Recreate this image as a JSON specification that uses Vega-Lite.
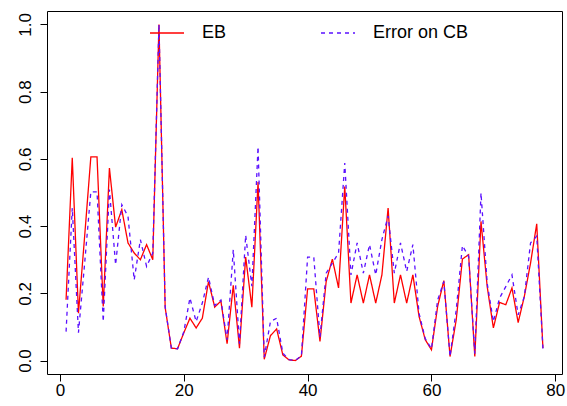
{
  "$schema": "https://vega.github.io/schema/vega-lite/v6.json",
  "width": 515,
  "height": 363,
  "autosize": {"type": "none"},
  "padding": {"left": 47, "top": 11, "right": 5, "bottom": 32},
  "background": "white",
  "config": {
    "view": {"stroke": "black", "strokeWidth": 1},
    "font": "Liberation Sans",
    "axis": {
      "domain": false,
      "grid": false,
      "ticks": true,
      "tickColor": "black",
      "tickSize": 7,
      "labelFont": "Liberation Sans",
      "labelFontSize": 17,
      "labelColor": "black",
      "title": null
    }
  },
  "data": {
    "values": [
      {"i": 1, "EB": 0.181, "Error on CB": 0.086},
      {"i": 2, "EB": 0.603, "Error on CB": 0.454},
      {"i": 3, "EB": 0.141, "Error on CB": 0.083},
      {"i": 4, "EB": 0.37, "Error on CB": 0.29},
      {"i": 5, "EB": 0.606, "Error on CB": 0.502},
      {"i": 6, "EB": 0.606, "Error on CB": 0.502},
      {"i": 7, "EB": 0.161, "Error on CB": 0.116},
      {"i": 8, "EB": 0.573, "Error on CB": 0.509},
      {"i": 9, "EB": 0.397, "Error on CB": 0.285},
      {"i": 10, "EB": 0.449, "Error on CB": 0.464},
      {"i": 11, "EB": 0.35, "Error on CB": 0.429},
      {"i": 12, "EB": 0.32, "Error on CB": 0.24},
      {"i": 13, "EB": 0.3, "Error on CB": 0.36},
      {"i": 14, "EB": 0.345, "Error on CB": 0.28},
      {"i": 15, "EB": 0.3, "Error on CB": 0.32},
      {"i": 16, "EB": 1.0, "Error on CB": 1.0},
      {"i": 17, "EB": 0.158, "Error on CB": 0.16},
      {"i": 18, "EB": 0.037, "Error on CB": 0.037},
      {"i": 19, "EB": 0.035, "Error on CB": 0.035},
      {"i": 20, "EB": 0.082, "Error on CB": 0.085},
      {"i": 21, "EB": 0.126, "Error on CB": 0.186},
      {"i": 22, "EB": 0.097, "Error on CB": 0.116},
      {"i": 23, "EB": 0.126, "Error on CB": 0.171},
      {"i": 24, "EB": 0.235, "Error on CB": 0.248},
      {"i": 25, "EB": 0.159, "Error on CB": 0.164},
      {"i": 26, "EB": 0.177, "Error on CB": 0.18},
      {"i": 27, "EB": 0.05, "Error on CB": 0.062},
      {"i": 28, "EB": 0.224, "Error on CB": 0.33},
      {"i": 29, "EB": 0.037, "Error on CB": 0.05},
      {"i": 30, "EB": 0.308, "Error on CB": 0.373},
      {"i": 31, "EB": 0.159, "Error on CB": 0.221},
      {"i": 32, "EB": 0.531, "Error on CB": 0.636},
      {"i": 33, "EB": 0.004, "Error on CB": 0.01},
      {"i": 34, "EB": 0.074, "Error on CB": 0.116},
      {"i": 35, "EB": 0.094, "Error on CB": 0.126},
      {"i": 36, "EB": 0.017, "Error on CB": 0.022},
      {"i": 37, "EB": 0.002, "Error on CB": 0.003},
      {"i": 38, "EB": 0.0, "Error on CB": 0.0},
      {"i": 39, "EB": 0.013, "Error on CB": 0.014},
      {"i": 40, "EB": 0.213, "Error on CB": 0.308},
      {"i": 41, "EB": 0.213, "Error on CB": 0.308},
      {"i": 42, "EB": 0.057, "Error on CB": 0.07},
      {"i": 43, "EB": 0.235, "Error on CB": 0.26},
      {"i": 44, "EB": 0.302, "Error on CB": 0.29},
      {"i": 45, "EB": 0.216, "Error on CB": 0.32},
      {"i": 46, "EB": 0.518, "Error on CB": 0.588},
      {"i": 47, "EB": 0.171, "Error on CB": 0.255},
      {"i": 48, "EB": 0.255, "Error on CB": 0.35},
      {"i": 49, "EB": 0.171, "Error on CB": 0.26},
      {"i": 50, "EB": 0.255, "Error on CB": 0.345},
      {"i": 51, "EB": 0.171, "Error on CB": 0.255},
      {"i": 52, "EB": 0.255, "Error on CB": 0.36},
      {"i": 53, "EB": 0.454, "Error on CB": 0.43},
      {"i": 54, "EB": 0.171, "Error on CB": 0.26},
      {"i": 55, "EB": 0.255, "Error on CB": 0.35},
      {"i": 56, "EB": 0.171, "Error on CB": 0.265},
      {"i": 57, "EB": 0.255, "Error on CB": 0.345},
      {"i": 58, "EB": 0.131, "Error on CB": 0.14},
      {"i": 59, "EB": 0.062, "Error on CB": 0.065},
      {"i": 60, "EB": 0.032, "Error on CB": 0.035},
      {"i": 61, "EB": 0.161, "Error on CB": 0.18},
      {"i": 62, "EB": 0.238, "Error on CB": 0.235},
      {"i": 63, "EB": 0.012, "Error on CB": 0.012},
      {"i": 64, "EB": 0.121, "Error on CB": 0.151},
      {"i": 65, "EB": 0.302, "Error on CB": 0.342},
      {"i": 66, "EB": 0.315, "Error on CB": 0.31},
      {"i": 67, "EB": 0.012, "Error on CB": 0.02},
      {"i": 68, "EB": 0.414, "Error on CB": 0.499},
      {"i": 69, "EB": 0.22, "Error on CB": 0.23},
      {"i": 70, "EB": 0.097, "Error on CB": 0.116},
      {"i": 71, "EB": 0.173, "Error on CB": 0.186},
      {"i": 72, "EB": 0.166, "Error on CB": 0.22},
      {"i": 73, "EB": 0.216, "Error on CB": 0.255},
      {"i": 74, "EB": 0.113, "Error on CB": 0.136},
      {"i": 75, "EB": 0.191, "Error on CB": 0.19},
      {"i": 76, "EB": 0.29, "Error on CB": 0.35},
      {"i": 77, "EB": 0.407, "Error on CB": 0.37},
      {"i": 78, "EB": 0.037, "Error on CB": 0.036}
    ]
  },
  "transform": [
    {"fold": ["EB", "Error on CB"], "as": ["series", "value"]}
  ],
  "mark": {"type": "line", "strokeWidth": 1.3, "clip": true},
  "encoding": {
    "x": {
      "field": "i",
      "type": "quantitative",
      "scale": {"domain": [-2.08, 81.08], "nice": false, "zero": false},
      "axis": {"values": [0, 20, 40, 60, 80], "format": "d", "labelPadding": 1, "labelBaseline": "top"}
    },
    "y": {
      "field": "value",
      "type": "quantitative",
      "scale": {"domain": [-0.04, 1.04], "nice": false, "zero": false},
      "axis": {
        "values": [0, 0.2, 0.4, 0.6, 0.8, 1.0],
        "format": ".1f",
        "labelAngle": 270,
        "labelAlign": "center",
        "labelBaseline": "alphabetic",
        "labelPadding": 10
      }
    },
    "color": {
      "field": "series",
      "type": "nominal",
      "scale": {"domain": ["EB", "Error on CB"], "range": ["#ff0000", "#5a10ff"]},
      "legend": {
        "title": null,
        "orient": "none",
        "legendX": 102,
        "legendY": 4,
        "direction": "horizontal",
        "symbolType": "stroke",
        "symbolSize": 1156,
        "symbolStrokeWidth": 1.3,
        "labelFontSize": 18,
        "labelFont": "Liberation Sans",
        "labelColor": "black",
        "labelOffset": 17,
        "columnPadding": 91,
        "padding": 0
      }
    },
    "strokeDash": {
      "field": "series",
      "type": "nominal",
      "scale": {"domain": ["EB", "Error on CB"], "range": [[1, 0], [4, 4]]},
      "legend": {
        "title": null,
        "orient": "none",
        "legendX": 102,
        "legendY": 4,
        "direction": "horizontal",
        "symbolType": "stroke",
        "symbolSize": 1156,
        "symbolStrokeWidth": 1.3,
        "labelFontSize": 18,
        "labelFont": "Liberation Sans",
        "labelColor": "black",
        "labelOffset": 17,
        "columnPadding": 91,
        "padding": 0
      }
    }
  }
}
